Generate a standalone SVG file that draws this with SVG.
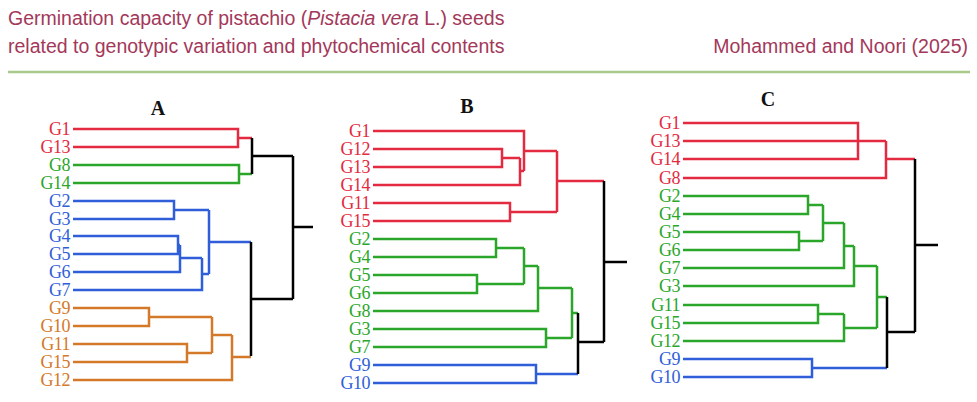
<svg xmlns="http://www.w3.org/2000/svg" width="977" height="402" viewBox="0 0 977 402">
<style>
.h{font-family:"Liberation Sans",Arial,sans-serif;font-size:19.5px;fill:#a3385a}
.t{font-family:"Liberation Serif","Times New Roman",serif;font-weight:bold;font-size:20px;fill:#111;text-anchor:middle}
.l{font-family:"Liberation Serif","Times New Roman",serif;font-size:18px;text-anchor:end;letter-spacing:-0.5px}
path{fill:none;stroke-width:2.5}
.r{stroke:#e42a40}.g{stroke:#2aa62a}.b{stroke:#2f5ed8}.o{stroke:#d4782a}.k{stroke:#000}
.fr{fill:#e42a40}.fg{fill:#2aa62a}.fb{fill:#2f5ed8}.fo{fill:#d4782a}
</style>
<rect width="977" height="402" fill="#fff"/>
<g id="header">
<text class="h" x="8" y="25">Germination capacity of pistachio (<tspan font-style="italic">Pistacia vera</tspan> L.) seeds</text>
<text class="h" x="8" y="53">related to genotypic variation and phytochemical contents</text>
<text class="h" x="968" y="53" text-anchor="end">Mohammed and Noori (2025)</text>
<line x1="8" y1="72" x2="970" y2="72" stroke="#a9c98a" stroke-width="2.5"/>
</g>
<g id="connectors">
<path class="r" d="M73 129H238V147H73M238 138H252"/>
<path class="g" d="M73 165H239V183H73M239 174H252"/>
<path class="b" d="M73 201H174V219H73M174 210H209M73 236H178V254H73M178 245H180M180 245V272H73M180 258H202M73 290H202V258M202 274H209M209 210V274M209 242H251"/>
<path class="o" d="M73 308H149V326H73M149 317H212M73 344H187V362H73M187 353H212M212 317V353M212 335H232M73 380H232V335M232 357H251"/>
<path class="k" d="M252 138V174M252 156H293M293 156V299M293 227H313M251 242V356M251 299H293"/>
<path class="r" d="M373 149H502V167H373M502 158H520M373 185H520V158M520 171H524M373 131H524V171M524 151H557M373 203H510V221H373M510 212H557M557 151V212M557 181H604"/>
<path class="g" d="M373 239H496V257H373M496 248H524M373 275H477V293H373M477 284H524M524 248V284M524 266H538M373 311H538V266M538 288H572M373 329H546V347H373M546 338H572M572 288V338M572 313H578"/>
<path class="b" d="M373 365H536V383H373M536 374H578"/>
<path class="k" d="M604 181V342M604 262H627M578 313V374M578 342H604"/>
<path class="r" d="M683 123H858V159H683M683 141H858M858 141H886M683 178H886V141M886 159H915"/>
<path class="g" d="M683 196H808V214H683M808 205H823M683 232H799V250H683M799 241H823M823 205V241M823 223H844M683 268H844V223M844 246H854M683 286H854V246M854 266H877M683 305H818V323H683M818 314H844M683 341H844V314M844 328H877M877 266V328M877 297H887"/>
<path class="b" d="M683 359H812V377H683M812 368H887"/>
<path class="k" d="M915 159V332M915 245H938M887 297V368M887 332H915"/>
</g>
<g id="panelA">
<text class="t" x="158" y="115">A</text>
<text class="l fr" x="70" y="135">G1</text><text class="l fr" x="70" y="153">G13</text>
<text class="l fg" x="70" y="171">G8</text><text class="l fg" x="70" y="189">G14</text>
<text class="l fb" x="70" y="207">G2</text><text class="l fb" x="70" y="225">G3</text><text class="l fb" x="70" y="242">G4</text><text class="l fb" x="70" y="260">G5</text><text class="l fb" x="70" y="278">G6</text><text class="l fb" x="70" y="296">G7</text>
<text class="l fo" x="70" y="314">G9</text><text class="l fo" x="70" y="332">G10</text><text class="l fo" x="70" y="350">G11</text><text class="l fo" x="70" y="368">G15</text><text class="l fo" x="70" y="386">G12</text>
</g>
<g id="panelB">
<text class="t" x="467" y="113">B</text>
<text class="l fr" x="370" y="137">G1</text><text class="l fr" x="370" y="155">G12</text><text class="l fr" x="370" y="173">G13</text><text class="l fr" x="370" y="191">G14</text><text class="l fr" x="370" y="209">G11</text><text class="l fr" x="370" y="227">G15</text>
<text class="l fg" x="370" y="245">G2</text><text class="l fg" x="370" y="263">G4</text><text class="l fg" x="370" y="281">G5</text><text class="l fg" x="370" y="299">G6</text><text class="l fg" x="370" y="317">G8</text><text class="l fg" x="370" y="335">G3</text><text class="l fg" x="370" y="353">G7</text>
<text class="l fb" x="370" y="371">G9</text><text class="l fb" x="370" y="389">G10</text>
</g>
<g id="panelC">
<text class="t" x="768" y="106">C</text>
<text class="l fr" x="680" y="129">G1</text><text class="l fr" x="680" y="147">G13</text><text class="l fr" x="680" y="165">G14</text><text class="l fr" x="680" y="184">G8</text>
<text class="l fg" x="680" y="202">G2</text><text class="l fg" x="680" y="220">G4</text><text class="l fg" x="680" y="238">G5</text><text class="l fg" x="680" y="256">G6</text><text class="l fg" x="680" y="274">G7</text><text class="l fg" x="680" y="292">G3</text><text class="l fg" x="680" y="311">G11</text><text class="l fg" x="680" y="329">G15</text><text class="l fg" x="680" y="347">G12</text>
<text class="l fb" x="680" y="365">G9</text><text class="l fb" x="680" y="383">G10</text>
</g>
</svg>
